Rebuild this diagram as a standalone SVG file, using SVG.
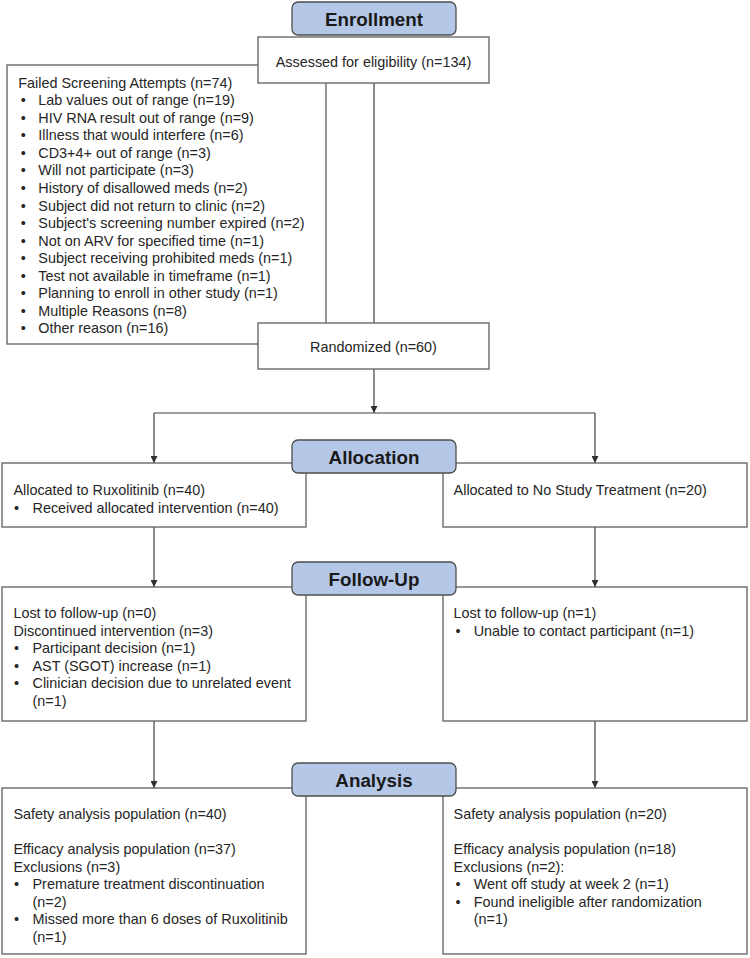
<svg xmlns="http://www.w3.org/2000/svg" width="750" height="958" viewBox="0 0 750 958">
<style>
.box{fill:#ffffff;stroke:#5f5f5f;stroke-width:1.3}
.hdr{fill:#b4c7e7;stroke:#4d4d4d;stroke-width:1.3}
.t{font-family:"Liberation Sans",Arial,sans-serif;font-size:14.4px;fill:#262626}
.h{font-family:"Liberation Sans",Arial,sans-serif;font-size:18.8px;font-weight:bold;fill:#1a1a1a;text-anchor:middle}
.c{stroke:#404040;stroke-width:1.2;fill:none}
</style>
<defs>
<marker id="arr" viewBox="0 0 10 10" refX="10" refY="5" markerWidth="7" markerHeight="7" markerUnits="userSpaceOnUse" orient="auto">
<path d="M0,0 L10,5 L0,10 z" fill="#303030"/>
</marker>
</defs>
<rect width="750" height="958" fill="#ffffff"/>

<g id="failed">
<rect class="box" x="7" y="65" width="319" height="279"/>
<text class="t">
<tspan x="18.3" y="87.7">Failed Screening Attempts (n=74)</tspan>
<tspan x="20.7" y="105.2">•</tspan><tspan x="38.3" y="105.2">Lab values out of range (n=19)</tspan>
<tspan x="20.7" y="122.8">•</tspan><tspan x="38.3" y="122.8">HIV RNA result out of range (n=9)</tspan>
<tspan x="20.7" y="140.3">•</tspan><tspan x="38.3" y="140.3">Illness that would interfere (n=6)</tspan>
<tspan x="20.7" y="157.9">•</tspan><tspan x="38.3" y="157.9">CD3+4+ out of range (n=3)</tspan>
<tspan x="20.7" y="175.4">•</tspan><tspan x="38.3" y="175.4">Will not participate (n=3)</tspan>
<tspan x="20.7" y="193.0">•</tspan><tspan x="38.3" y="193.0">History of disallowed meds (n=2)</tspan>
<tspan x="20.7" y="210.5">•</tspan><tspan x="38.3" y="210.5">Subject did not return to clinic (n=2)</tspan>
<tspan x="20.7" y="228.0">•</tspan><tspan x="38.3" y="228.0">Subject's screening number expired (n=2)</tspan>
<tspan x="20.7" y="245.6">•</tspan><tspan x="38.3" y="245.6">Not on ARV for specified time (n=1)</tspan>
<tspan x="20.7" y="263.1">•</tspan><tspan x="38.3" y="263.1">Subject receiving prohibited meds (n=1)</tspan>
<tspan x="20.7" y="280.7">•</tspan><tspan x="38.3" y="280.7">Test not available in timeframe (n=1)</tspan>
<tspan x="20.7" y="298.2">•</tspan><tspan x="38.3" y="298.2">Planning to enroll in other study (n=1)</tspan>
<tspan x="20.7" y="315.8">•</tspan><tspan x="38.3" y="315.8">Multiple Reasons (n=8)</tspan>
<tspan x="20.7" y="333.3">•</tspan><tspan x="38.3" y="333.3">Other reason (n=16)</tspan>
</text>
</g>

<g id="connectors">
<line class="c" x1="374" y1="83" x2="374" y2="323"/>
<line class="c" x1="374" y1="369" x2="374" y2="413" marker-end="url(#arr)"/>
<line class="c" x1="154" y1="413" x2="595" y2="413"/>
<line class="c" x1="154" y1="413" x2="154" y2="463" marker-end="url(#arr)"/>
<line class="c" x1="595" y1="413" x2="595" y2="463" marker-end="url(#arr)"/>
<line class="c" x1="154" y1="527" x2="154" y2="587" marker-end="url(#arr)"/>
<line class="c" x1="595" y1="527" x2="595" y2="587" marker-end="url(#arr)"/>
<line class="c" x1="154" y1="721" x2="154" y2="788" marker-end="url(#arr)"/>
<line class="c" x1="595" y1="721" x2="595" y2="788" marker-end="url(#arr)"/>
</g>

<g id="assessed">
<rect class="box" x="258" y="37" width="231" height="46"/>
<text class="t" x="373.5" y="66.5" text-anchor="middle">Assessed for eligibility (n=134)</text>
</g>

<g id="enrollment">
<rect class="hdr" x="292" y="2" width="164" height="33" rx="6"/>
<text class="h" x="374" y="25.5">Enrollment</text>
</g>

<g id="randomized">
<rect class="box" x="258" y="323" width="231" height="46"/>
<text class="t" x="373.5" y="351.7" text-anchor="middle">Randomized (n=60)</text>
</g>

<g id="alloc-rux">
<rect class="box" x="2" y="463" width="304" height="64"/>
<text class="t">
<tspan x="13.4" y="495">Allocated to Ruxolitinib (n=40)</tspan>
<tspan x="14" y="512.5">•</tspan><tspan x="32.5" y="512.5">Received allocated intervention (n=40)</tspan>
</text>
</g>

<g id="alloc-none">
<rect class="box" x="443" y="463" width="304" height="64"/>
<text class="t" x="453.6" y="495">Allocated to No Study Treatment (n=20)</text>
</g>

<g id="allocation">
<rect class="hdr" x="292" y="440" width="164" height="33" rx="6"/>
<text class="h" x="374" y="463.5">Allocation</text>
</g>

<g id="follow-rux">
<rect class="box" x="2" y="587" width="304" height="134"/>
<text class="t">
<tspan x="13.4" y="618">Lost to follow-up (n=0)</tspan>
<tspan x="13.4" y="635.5">Discontinued intervention (n=3)</tspan>
<tspan x="14" y="653">•</tspan><tspan x="32.5" y="653">Participant decision (n=1)</tspan>
<tspan x="14" y="670.5">•</tspan><tspan x="32.5" y="670.5">AST (SGOT) increase (n=1)</tspan>
<tspan x="14" y="688">•</tspan><tspan x="32.5" y="688">Clinician decision due to unrelated event</tspan>
<tspan x="32.5" y="705.5">(n=1)</tspan>
</text>
</g>

<g id="follow-none">
<rect class="box" x="443" y="587" width="304" height="134"/>
<text class="t">
<tspan x="453.6" y="618">Lost to follow-up (n=1)</tspan>
<tspan x="455.5" y="635.5">•</tspan><tspan x="473.7" y="635.5">Unable to contact participant (n=1)</tspan>
</text>
</g>

<g id="followup">
<rect class="hdr" x="292" y="562" width="164" height="33" rx="6"/>
<text class="h" x="374" y="585.5">Follow-Up</text>
</g>

<g id="analysis-rux">
<rect class="box" x="2" y="788" width="304" height="166"/>
<text class="t">
<tspan x="13.4" y="819">Safety analysis population (n=40)</tspan>
<tspan x="13.4" y="854">Efficacy analysis population (n=37)</tspan>
<tspan x="13.4" y="871.5">Exclusions (n=3)</tspan>
<tspan x="14" y="889">•</tspan><tspan x="32.5" y="889">Premature treatment discontinuation</tspan>
<tspan x="32.5" y="906.5">(n=2)</tspan>
<tspan x="14" y="924">•</tspan><tspan x="32.5" y="924">Missed more than 6 doses of Ruxolitinib</tspan>
<tspan x="32.5" y="941.5">(n=1)</tspan>
</text>
</g>

<g id="analysis-none">
<rect class="box" x="443" y="788" width="304" height="166"/>
<text class="t">
<tspan x="453.6" y="819">Safety analysis population (n=20)</tspan>
<tspan x="453.6" y="854">Efficacy analysis population (n=18)</tspan>
<tspan x="453.6" y="871.5">Exclusions (n=2):</tspan>
<tspan x="455.5" y="889">•</tspan><tspan x="473.7" y="889">Went off study at week 2 (n=1)</tspan>
<tspan x="455.5" y="906.5">•</tspan><tspan x="473.7" y="906.5">Found ineligible after randomization</tspan>
<tspan x="473.7" y="924">(n=1)</tspan>
</text>
</g>

<g id="analysis">
<rect class="hdr" x="292" y="763" width="164" height="33" rx="6"/>
<text class="h" x="374" y="786.5">Analysis</text>
</g>
</svg>
